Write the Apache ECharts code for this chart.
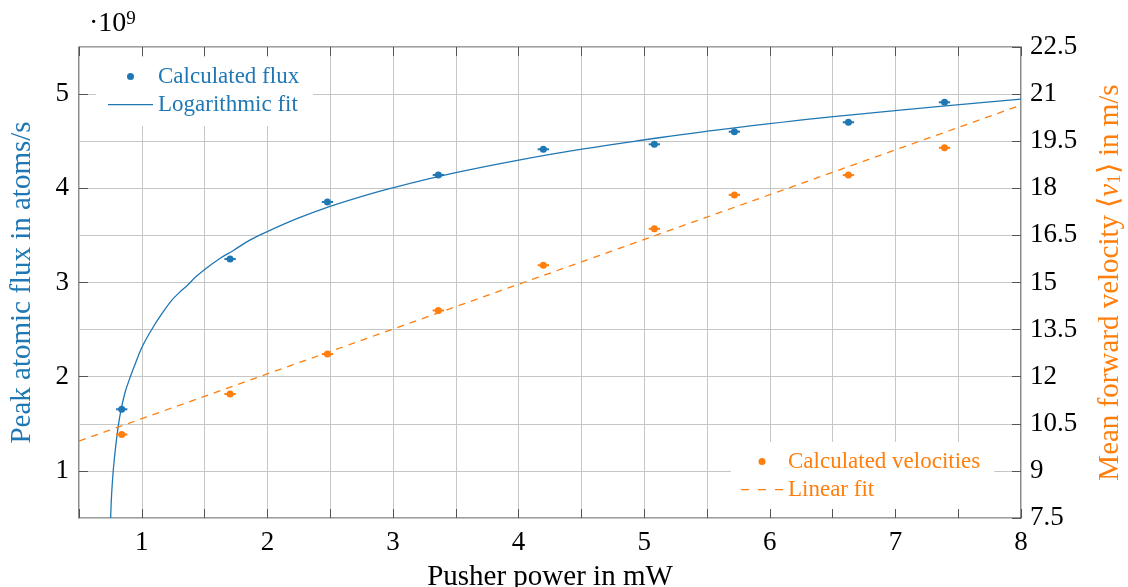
<!DOCTYPE html>
<html>
<head>
<meta charset="utf-8">
<script src="https://cdn.jsdelivr.net/npm/echarts@6/dist/echarts.min.js"></script>
<style>html,body{margin:0;padding:0;background:#fff}#c{width:1128px;height:587px}</style>
</head>
<body>
<div id="c"></div>
<script>
// ---- data ----
const power = [0.840, 1.703, 2.478, 3.361, 4.197, 5.081, 5.718, 6.626, 7.391];   // mW
const powerErr = [0.045, 0.045, 0.045, 0.045, 0.045, 0.045, 0.045, 0.045, 0.045];
const flux = [1.654, 3.249, 3.855, 4.142, 4.414, 4.467, 4.601, 4.701, 4.913];      // 1e9 atoms/s
const velocity = [10.16, 11.45, 12.72, 14.11, 15.55, 16.71, 17.79, 18.42, 19.29];  // m/s
const logFitX = [0.752, 0.760, 0.773, 0.792, 0.813, 0.832, 0.866, 0.906, 0.946, 1.004, 1.092, 1.160, 1.238, 1.300, 1.360, 1.430, 1.503, 1.610, 1.729, 1.860, 2.008, 2.250, 2.499, 2.750, 3.003, 3.508, 4.012, 4.516, 5.020, 5.450, 6.507, 8.000];
const logFitY = [0.50, 0.76, 1.01, 1.26, 1.48, 1.63, 1.83, 1.99, 2.13, 2.32, 2.53, 2.67, 2.81, 2.895, 2.965, 3.06, 3.14, 3.245, 3.34, 3.45, 3.546, 3.685, 3.808, 3.913, 4.007, 4.168, 4.302, 4.418, 4.518, 4.597, 4.76, 4.947];
const linFitX = [0.5, 8.0];
const linFitY = [9.95, 20.65];
const xTicks = [1, 2, 3, 4, 5, 6, 7, 8];
const fluxTicks = [1, 2, 3, 4, 5];

const BLUE = '#1f77b4', ORANGE = '#ff7f0e';
const FONT = 'Liberation Serif';

const zip = (a, b) => a.map((v, i) => [v, b[i]]);
const errData = (ys) => power.map((x, i) => [x, ys[i], powerErr[i]]);

function errRender(color) {
  return function (params, api) {
    const y = api.value(1);
    const p1 = api.coord([api.value(0) - api.value(2), y]);
    const p2 = api.coord([api.value(0) + api.value(2), y]);
    return {
      type: 'line',
      shape: { x1: p1[0], y1: p1[1], x2: p2[0], y2: p2[1] },
      style: { stroke: color, lineWidth: 2 }
    };
  };
}

const tickStyle = { show: true, inside: true, length: 9, lineStyle: { color: '#555', width: 1 } };
const SOLID_ICON = 'path://M0,0M0,3L45,3L45,4.3L0,4.3ZM45,7';
const DASH_ICON = 'path://M0,0M0,3L8,3L8,4.3L0,4.3ZM17,3L25,3L25,4.3L17,4.3ZM34,3L42,3L42,4.3L34,4.3ZM42,7';

const option = {
  animation: false,
  backgroundColor: '#fff',
  title: {
    text: '·10{s|9}',
    left: 84, top: 5,
    textStyle: {
      fontFamily: FONT, fontSize: 28, fontWeight: 'normal', color: '#000',
      rich: { s: { fontFamily: FONT, fontSize: 19, verticalAlign: 'top', color: '#000' } }
    }
  },
  grid: { left: 79, right: 107, top: 47, bottom: 69, containLabel: false, outerBoundsMode: 'none',
          show: true, borderColor: '#404040', borderWidth: 1.2, backgroundColor: 'transparent' },
  legend: [
    {
      data: [{ name: 'Calculated flux', icon: 'circle' }, { name: 'Logarithmic fit', icon: SOLID_ICON }],
      orient: 'vertical', left: 96, top: 57, padding: [8, 14, 10, 12],
      itemWidth: 45, itemHeight: 7, itemGap: 5, backgroundColor: '#fff',
      selectedMode: false,
      textStyle: { fontFamily: FONT, fontSize: 23, color: BLUE }
    },
    {
      data: [{ name: 'Calculated velocities', icon: 'circle' }, { name: 'Linear fit', icon: DASH_ICON }],
      orient: 'vertical', left: 731, top: 442, padding: [8, 14, 8, 10],
      itemWidth: 42, itemHeight: 7, itemGap: 5, backgroundColor: '#fff',
      selectedMode: false,
      textStyle: { fontFamily: FONT, fontSize: 23, color: ORANGE }
    }
  ],
  xAxis: [
    {
      type: 'value', position: 'bottom', min: 0.5, max: 8, interval: 0.5,
      axisLine: { show: false },
      axisTick: tickStyle,
      axisLabel: {
        customValues: xTicks, margin: 11,
        fontFamily: FONT, fontSize: 27, color: '#000'
      },
      splitLine: { show: true, lineStyle: { color: '#c6c6c6', width: 1 } },
      name: 'Pusher power in mW', nameLocation: 'middle', nameGap: 45,
      nameTextStyle: { fontFamily: FONT, fontSize: 29, color: '#000' }
    },
    {
      type: 'value', position: 'top', min: 0.5, max: 8, interval: 0.5,
      axisLine: { show: false }, axisTick: tickStyle,
      axisLabel: { show: false }, splitLine: { show: false }
    }
  ],
  yAxis: [
    {
      type: 'value', position: 'left', min: 0.5, max: 5.5, interval: 0.5,
      axisLine: { show: false },
      axisTick: Object.assign({}, tickStyle, { customValues: fluxTicks }),
      axisLabel: { customValues: fluxTicks, margin: 10, fontFamily: FONT, fontSize: 27, color: '#000' },
      splitLine: { show: false },
      name: 'Peak atomic flux in atoms/s', nameLocation: 'middle', nameGap: 42, nameRotate: 90,
      nameTextStyle: { fontFamily: FONT, fontSize: 29, color: BLUE }
    },
    {
      type: 'value', position: 'right', min: 7.5, max: 22.5, interval: 1.5,
      axisLine: { show: false }, axisTick: tickStyle,
      axisLabel: { margin: 9, fontFamily: FONT, fontSize: 27, color: '#000', showMinLabel: true, showMaxLabel: true },
      splitLine: { show: true, lineStyle: { color: '#c6c6c6', width: 1 } },
      name: 'Mean forward velocity ⟨{i|v}{sub|1}⟩ in m/s', nameLocation: 'middle', nameGap: 75, nameRotate: 90,
      nameTextStyle: {
        fontFamily: FONT, fontSize: 29, color: ORANGE,
        rich: {
          i: { fontFamily: FONT, fontSize: 29, fontStyle: 'italic', color: ORANGE },
          sub: { fontFamily: FONT, fontSize: 19, color: ORANGE, verticalAlign: 'bottom' }
        }
      }
    }
  ],
  series: [
    {
      name: 'Logarithmic fit', type: 'line', xAxisIndex: 0, yAxisIndex: 0,
      data: zip(logFitX, logFitY), smooth: 0.4, symbol: 'none',
      lineStyle: { color: BLUE, width: 1.3 }, itemStyle: { color: BLUE }, z: 3
    },
    {
      name: 'Linear fit', type: 'line', xAxisIndex: 0, yAxisIndex: 1,
      data: zip(linFitX, linFitY), symbol: 'none',
      lineStyle: { color: ORANGE, width: 1.3, type: [7, 6] }, itemStyle: { color: ORANGE }, z: 3
    },
    {
      name: 'fluxErr', type: 'custom', xAxisIndex: 0, yAxisIndex: 0,
      data: errData(flux), renderItem: errRender(BLUE), z: 4
    },
    {
      name: 'velErr', type: 'custom', xAxisIndex: 0, yAxisIndex: 1,
      data: errData(velocity), renderItem: errRender(ORANGE), z: 4
    },
    {
      name: 'Calculated flux', type: 'scatter', xAxisIndex: 0, yAxisIndex: 0,
      data: zip(power, flux), symbol: 'circle', symbolSize: 7,
      itemStyle: { color: BLUE, opacity: 1 }, z: 5
    },
    {
      name: 'Calculated velocities', type: 'scatter', xAxisIndex: 0, yAxisIndex: 1,
      data: zip(power, velocity), symbol: 'circle', symbolSize: 7,
      itemStyle: { color: ORANGE, opacity: 1 }, z: 5
    }
  ]
};

const chart = echarts.init(document.getElementById('c'), null, { renderer: 'canvas' });
chart.setOption(option);
</script>
</body>
</html>
